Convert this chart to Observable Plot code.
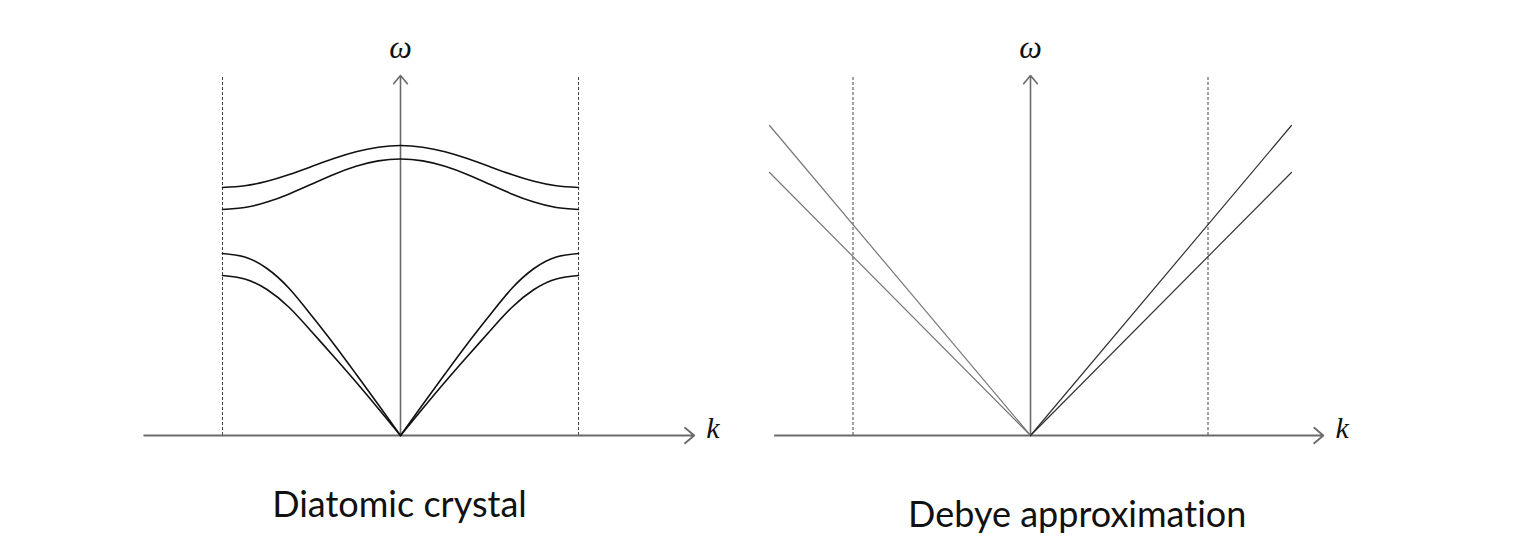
<!DOCTYPE html>
<html>
<head>
<meta charset="utf-8">
<script src="https://cdn.jsdelivr.net/npm/d3@7"></script>
<script src="https://cdn.jsdelivr.net/npm/@observablehq/plot@0.6"></script>
<style>
  html, body { margin: 0; padding: 0; background: #fff; }
  #wrap { display: flex; width: 1531px; height: 544px; overflow: hidden; }
  #wrap svg { display: block; }
  #wrap svg text { font-variant-ligatures: none; font-feature-settings: "liga" 0, "dlig" 0; }
</style>
</head>
<body>
<div id="wrap"></div>
<script>
// ---- data (k in units of the zone boundary π/a, ω in arbitrary units) ----
const kGrid = [-1, -0.875, -0.75, -0.625, -0.5, -0.375, -0.25, -0.125, 0,
               0.125, 0.25, 0.375, 0.5, 0.625, 0.75, 0.875, 1];
const opticalUpper  = [2.48, 2.497, 2.542, 2.61, 2.69, 2.77, 2.838, 2.883, 2.90,
                       2.883, 2.838, 2.77, 2.69, 2.61, 2.542, 2.497, 2.48];
const opticalLower  = [2.26, 2.28, 2.334, 2.416, 2.513, 2.61, 2.692, 2.746, 2.765,
                       2.746, 2.692, 2.61, 2.513, 2.416, 2.334, 2.28, 2.26];
const acousticUpper = [1.82, 1.785, 1.67, 1.47, 1.20, 0.915, 0.615, 0.31, 0,
                       0.31, 0.615, 0.915, 1.20, 1.47, 1.67, 1.785, 1.82];
const acousticLower = [1.60, 1.565, 1.46, 1.28, 1.04, 0.79, 0.535, 0.27, 0,
                       0.27, 0.535, 0.79, 1.04, 1.28, 1.46, 1.565, 1.60];

const debyeK       = [-1.47, 0, 1.47];
const debyeSteep   = [3.10, 0, 3.10];
const debyeShallow = [2.63, 0, 2.63];

const zoneEdges = [-1, 1];
const kAxis = [-1.44, 1.65];
const omegaTop = 3.6;

const captions = ["Diatomic crystal", "Debye approximation"];
const axisLabels = {omega: "ω", k: "k"};

// ---- build tables ----
const branchRows = [];
function addBranch(name, vals, splitAtZero) {
  kGrid.forEach((k, i) => {
    if (splitAtZero) {
      if (k <= 0) branchRows.push({k, w: vals[i], series: name + "-L"});
      if (k >= 0) branchRows.push({k, w: vals[i], series: name + "-R"});
    } else {
      branchRows.push({k, w: vals[i], series: name});
    }
  });
}
addBranch("optU", opticalUpper, false);
addBranch("optL", opticalLower, false);
addBranch("acU", acousticUpper, true);
addBranch("acL", acousticLower, true);

const debyeRows = [];
[["steep", debyeSteep], ["shallow", debyeShallow]].forEach(([name, vals]) => {
  debyeK.forEach((k, i) => {
    if (k <= 0) debyeRows.push({k, w: vals[i], series: name + "-L", side: "L"});
    if (k >= 0) debyeRows.push({k, w: vals[i], series: name + "-R", side: "R"});
  });
});

const axisColor = "#6a6a6a";
const labelFont = "'Liberation Serif', 'DejaVu Serif', serif";
const captionFont = "Lato, 'Open Sans', sans-serif";

function commonMarks() {
  return [
    Plot.ruleX(zoneEdges, {x: d => d, y1: 0, y2: omegaTop, stroke: "#444", strokeWidth: 1, strokeDasharray: "3,2"}),
    Plot.arrow([{x1: kAxis[0], y1: 0, x2: kAxis[1], y2: 0}],
      {x1: "x1", y1: "y1", x2: "x2", y2: "y2", stroke: axisColor, strokeWidth: 1.8, headLength: 10, headAngle: 80}),
    Plot.arrow([{x1: 0, y1: 0, x2: 0, y2: omegaTop}],
      {x1: "x1", y1: "y1", x2: "x2", y2: "y2", stroke: axisColor, strokeWidth: 1.6, headLength: 10, headAngle: 80}),
    Plot.text([axisLabels.omega], {text: d => d, x: 0, y: omegaTop, dy: -28, lineAnchor: "middle",
      fontSize: 32, fontStyle: "italic", fontFamily: labelFont, fill: "#111"}),
    Plot.text([axisLabels.k], {text: d => d, x: kAxis[1], y: 0, dx: 12, dy: -7, textAnchor: "start", lineAnchor: "middle",
      fontSize: 30, fontStyle: "italic", fontFamily: labelFont, fill: "#111"})
  ];
}

const left = Plot.plot({
  width: 765, height: 544, margin: 0,
  style: {background: "#fff", overflow: "visible"},
  x: {domain: [-1, 1], range: [222, 578], axis: null},
  y: {domain: [0, omegaTop], range: [435, 75], axis: null},
  marks: [
    ...commonMarks(),
    Plot.line(branchRows, {x: "k", y: "w", z: "series", curve: "natural", stroke: "#111", strokeWidth: 1.6}),
    Plot.text([captions[0]], {text: d => d, frameAnchor: "bottom", lineAnchor: "middle", dx: 16.5, dy: -39,
      fontSize: 36, fontFamily: captionFont, fill: "#111"})
  ]
});

const right = Plot.plot({
  width: 766, height: 544, margin: 0,
  style: {background: "#fff", overflow: "visible"},
  x: {domain: [-1, 1], range: [87.5, 442.5], axis: null},
  y: {domain: [0, omegaTop], range: [435, 75], axis: null},
  marks: [
    ...commonMarks(),
    Plot.line(debyeRows, {x: "k", y: "w", z: "series", stroke: d => d.side === "L" ? "#777" : "#333", strokeWidth: 1.2}),
    Plot.text([captions[1]], {text: d => d, frameAnchor: "bottom", lineAnchor: "middle", dx: -71.3, dy: -29,
      fontSize: 36, fontFamily: captionFont, fill: "#111"})
  ]
});

document.getElementById("wrap").append(left, right);
</script>
</body>
</html>
